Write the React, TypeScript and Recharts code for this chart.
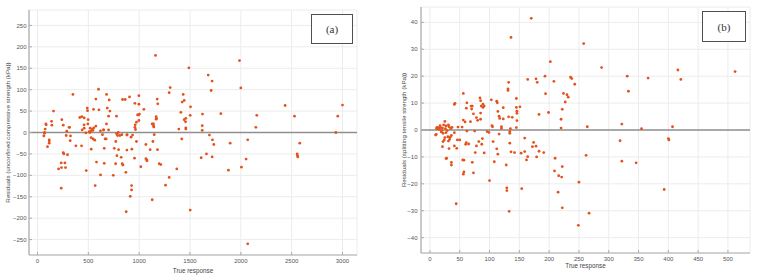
import { ScatterChart, Scatter, XAxis, YAxis, CartesianGrid, ReferenceLine } from 'recharts';

// (a) unconfined compressive strength: [true response, residual]
const ucsResiduals: [number, number][] = [
  [1161, 180], [1987, 168], [1489, 151], [1679, 134], [1718, 120], [2000, 104], [1305, 105], [600, 101],
  [1708, 98], [1295, 93], [679, 89], [348, 89], [905, 83], [997, 86], [1433, 89], [574, 78], [836, 77],
  [862, 77], [1177, 78], [705, 76], [1443, 75], [1183, 67], [1423, 71], [2436, 63], [3000, 64], [958, 68],
  [997, 66], [1505, 60], [489, 57], [492, 51], [551, 54], [604, 53], [686, 57], [712, 50], [157, 50],
  [1046, 54], [1410, 47], [436, 37], [416, 35], [459, 34], [498, 30], [239, 30], [699, 38], [777, 38],
  [984, 41], [1003, 43], [994, 41], [1167, 37], [1170, 33], [1167, 31], [1443, 30], [1459, 33], [1502, 40],
  [1623, 43], [1803, 44], [2157, 40], [2528, 38], [2954, 38], [138, 26], [141, 17], [82, 20], [85, 18],
  [253, 17], [574, 15], [997, 28], [973, 24], [961, 18], [958, 12], [964, 7], [1128, 20], [1141, 20],
  [1141, 15], [1144, 13], [1456, 25], [1459, 11], [1459, 8], [1390, 8], [1620, 16], [1620, 5], [2148, 12],
  [2935, 0], [75, 8], [69, 0], [315, 12], [495, 20], [459, 10], [518, 10], [554, 11], [545, 5], [508, 2],
  [650, 6], [699, 6], [777, -3], [794, 0], [879, -6], [810, -7], [830, -5], [935, -6], [1148, -5],
  [62, -8], [68, -2], [282, -7], [321, -19], [324, -8], [527, -12], [547, -15], [563, -18], [665, -15],
  [675, -15], [770, -21], [787, -7], [881, -5], [920, -11], [973, -21], [288, 3], [311, 12], [439, 6],
  [458, 18], [475, -1], [515, 0], [527, 4], [540, 8], [619, 4], [639, -5], [649, 6], [678, 20],
  [1419, -15], [1691, -6],
  [98, -33], [115, -20], [115, -25], [115, -17], [377, -31], [433, -31], [528, -39], [253, -47], [259, -50],
  [295, -52], [233, -71], [269, -71], [236, -82], [275, -82], [207, -85], [479, -89], [233, -130], [580, -69],
  [620, -99], [656, -37], [656, -72], [567, -124], [755, -37], [768, -73], [781, -54], [797, -40], [823, -58],
  [833, -73], [840, -76], [745, -100], [869, -93], [879, -41], [928, -39], [954, -60], [872, -185], [912, -149],
  [925, -124], [925, -134], [1016, -80], [1066, -28], [1066, -61], [1076, -64], [1076, -66], [1108, -40],
  [1135, -21], [1180, -40], [1197, -73], [1213, -75], [1128, -157], [1259, -123], [1295, -105], [1370, -85],
  [1502, -181], [1610, -59], [1662, -50], [1718, -57], [1721, -17], [1734, -28], [1878, -88], [1895, -25],
  [2006, -81], [2052, -62], [2068, -17], [2068, -260], [2554, -50], [2557, -54], [2561, -57], [2580, -25],
];

// (b) splitting tensile strength: [true response, residual]
const stsResiduals: [number, number][] = [
  [170, 41.5], [136, 34.4], [258, 32.1], [202, 25.4], [288, 23.2], [416, 22.3], [512, 21.7], [331, 20],
  [366, 19.3], [421, 18.8], [236, 19.6], [238, 19.1], [193, 20], [178, 19], [180, 17.7], [164, 18.8],
  [208, 18.1], [243, 17], [132, 17.7], [131, 15.3], [131, 14.7], [333, 14.4], [224, 13.6], [230, 13.1],
  [232, 12.2], [194, 13.5], [56, 13.6], [42, 9.9], [41, 9.5], [62, 10.1], [61, 8.1], [69, 8.9], [71, 8.9],
  [70, 7.8], [84, 11.9], [85, 10.9], [89, 9.6], [91, 8.9], [89, 8.4], [86, 8.9], [103, 11.2], [112, 10.7],
  [113, 10.1], [123, 8.3], [145, 8.4], [145, 11.7], [151, 8.6], [132, 4.9], [138, 4.7], [146, 6.2], [146, 7],
  [146, 3.5], [145, 0.9], [114, 6.9], [116, 5.1], [117, 4.3], [123, 4.1], [73, 6], [78, 4.6], [85, 4],
  [56, 3.7], [59, 3], [54, 1.1], [47, 1.1], [104, 1.6], [105, 1.2], [120, 1.2], [120, 0.6], [135, 0.5],
  [134, -0.6], [134, -1.2], [183, 5.8], [199, 6.5], [222, 7.7], [227, 10.4], [220, 4], [220, 0.7], [264, 1.2],
  [322, 2.2], [355, 0.5], [407, 1.2], [96, -0.6], [99, -0.9], [159, -3], [400, -3.2],
  [11, 0.6], [12, 1], [13, 0.4], [15, 0.9], [16, 0.2], [17, 1.6], [18, 0.9], [20, -0.2], [21, 0.7], [23, 1.9],
  [25, 3.2], [26, 0.5], [27, 1.5], [29, -0.2], [31, 1.9], [32, 1.2], [35, 0.6], [37, 1], [9.5, -1.9], [19, -0.7],
  [22, -1.2], [27, -1], [30, -2.5], [36, -2], [41, -1], [25, -2.8], [34, -2.7],
  [88, -3.2], [33, -3.5], [10.5, -1.6], [80, 3.6], [68, 3.1], [85, 6.3], [75, -0.4], [62, -0.4], [116, -1.5],
  [21, -6.2], [22, -4.3], [24, -3.7], [31, -4.1], [32, -6.9], [28, -10.5], [27, -10.6], [36, -12], [36, -13],
  [41, -5.9], [45, -6.8], [44, -27.4], [46, -3.7], [50, -3.7], [55, -11.1], [57, -11.2], [57, -15.6], [56, -16.4],
  [61, -4.7], [60, -5.3], [65, -5.2], [71, -12], [73, -15.9], [76, -8.4], [78, -5.9], [82, -4.3], [87, -5.3],
  [91, -8.5], [100, -18.8], [106, -4.3], [108, -11.8], [112, -7], [114, -9], [128, -13], [129, -21.5],
  [129, -22.5], [133, -30.2], [134, -4.9], [136, -8.1], [142, -8.4], [153, -8.6], [154, -21.8], [159, -8],
  [162, -11.1], [164, -9.9], [172, -6.2], [174, -4.6], [178, -6], [179, -10], [183, -7.9], [191, -8.4],
  [210, -10.5], [209, -15.2], [216, -17], [215, -23.1], [221, -17.5], [222, -13.6], [222, -28.9], [249, -35.4],
  [250, -19.4], [262, -9.4], [267, -30.9], [319, -4], [322, -11.6], [346, -12.2], [393, -22.1], [401, -3.7],
];

const ucsXTicks = [0, 500, 1000, 1500, 2000, 2500, 3000];
const ucsYTicks = [-250, -200, -150, -100, -50, 0, 50, 100, 150, 200, 250];
const stsXTicks = [0, 50, 100, 150, 200, 250, 300, 350, 400, 450, 500];
const stsYTicks = [-40, -30, -20, -10, 0, 10, 20, 30, 40];

const FONT = '"Liberation Sans", Arial, sans-serif';
const DOT = '#e4521c';
const FRAME = '#ababab';
const TICK_COLOR = '#555';

const fmt = (v: number) => (v < 0 ? '\u2212' + Math.abs(v) : String(v));

const makeYTick = (gap: number) => (props: any) => {
  const { x, y, payload } = props;
  return (
    <g>
      <line x1={x + gap} x2={x + gap + 3} y1={y} y2={y} stroke={FRAME} />
      <text x={x} y={y} dy="0.35em" textAnchor="end" fontSize={6} fontFamily={FONT} fill={TICK_COLOR}>
        {fmt(payload.value)}
      </text>
    </g>
  );
};

const makeXTick = (gap: number) => (props: any) => {
  const { x, y, payload } = props;
  return (
    <g>
      <line x1={x} x2={x} y1={y - gap} y2={y - gap - 3} stroke={FRAME} />
      <text x={x} y={y} dy="0.71em" textAnchor="middle" fontSize={6} fontFamily={FONT} fill={TICK_COLOR}>
        {fmt(payload.value)}
      </text>
    </g>
  );
};

const TopTick = (props: any) => (
  <line x1={props.x} x2={props.x} y1={props.y} y2={props.y + 3} stroke={FRAME} />
);
const RightTick = (props: any) => (
  <line x1={props.x} x2={props.x - 3} y1={props.y} y2={props.y} stroke={FRAME} />
);

const dotShape = (p: any) => <circle cx={p.cx} cy={p.cy} r={1.4} fill={DOT} />;

type PanelProps = {
  points: [number, number][];
  xDomain: [number, number];
  yDomain: [number, number];
  xTicks: number[];
  yTicks: number[];
  yLabel: string;
  margin: { top: number; right: number; bottom: number; left: number };
  yAxisWidth: number;
  xAxisHeight: number;
  xGap: number;
  yGap: number;
  yLabelX: number;
  xLabelY: number;
};

const Panel = (p: PanelProps) => {
  const data = p.points.map(([x, y]) => ({ x, y }));
  const plotTop = p.margin.top;
  const plotBottom = 280 - p.margin.bottom - p.xAxisHeight;
  const plotLeft = p.margin.left + p.yAxisWidth;
  const plotRight = 379 - p.margin.right;
  const cx = (plotLeft + plotRight) / 2;
  const cy = (plotTop + plotBottom) / 2;
  return (
    <ScatterChart width={379} height={280} margin={p.margin}>
      <CartesianGrid stroke="#ececec" />
      <XAxis
        type="number"
        dataKey="x"
        domain={p.xDomain}
        ticks={p.xTicks}
        interval={0}
        allowDataOverflow
        height={p.xAxisHeight}
        axisLine={{ stroke: FRAME, strokeWidth: 1.2 }}
        tickLine={false}
        tickSize={0}
        tickMargin={p.xGap}
        tick={makeXTick(p.xGap)}
        label={{
          content: () => (
            <text x={cx} y={p.xLabelY} textAnchor="middle" dominantBaseline="central" fontSize={6.3} fontFamily={FONT} fill="#444">
              True response
            </text>
          ),
        }}
      />
      <XAxis
        xAxisId="top"
        orientation="top"
        type="number"
        domain={p.xDomain}
        ticks={p.xTicks}
        interval={0}
        allowDataOverflow
        height={0}
        axisLine={{ stroke: FRAME, strokeWidth: 1.2 }}
        tickLine={false}
        tickSize={0}
        tickMargin={0}
        tick={TopTick}
      />
      <YAxis
        type="number"
        dataKey="y"
        domain={p.yDomain}
        ticks={p.yTicks}
        interval={0}
        allowDataOverflow
        width={p.yAxisWidth}
        axisLine={{ stroke: FRAME, strokeWidth: 1.2 }}
        tickLine={false}
        tickSize={0}
        tickMargin={p.yGap}
        tick={makeYTick(p.yGap)}
        label={{
          content: () => (
            <text
              x={p.yLabelX}
              y={cy}
              transform={`rotate(-90 ${p.yLabelX} ${cy})`}
              textAnchor="middle"
              dominantBaseline="central"
              fontSize={6.2}
              fontFamily={FONT}
              fill="#444"
            >
              {p.yLabel}
            </text>
          ),
        }}
      />
      <YAxis
        yAxisId="right"
        orientation="right"
        type="number"
        domain={p.yDomain}
        ticks={p.yTicks}
        interval={0}
        allowDataOverflow
        width={0}
        axisLine={{ stroke: FRAME, strokeWidth: 1.2 }}
        tickLine={false}
        tickSize={0}
        tickMargin={0}
        tick={RightTick}
      />
      <ReferenceLine y={0} stroke="#8f8f8f" strokeWidth={1.5} />
      <Scatter data={data} shape={dotShape} isAnimationActive={false} />
    </ScatterChart>
  );
};

const boxStyle = {
  position: 'absolute' as const,
  boxSizing: 'border-box' as const,
  border: '1.5px solid #505050',
  background: '#fff',
  display: 'flex',
  alignItems: 'center',
  justifyContent: 'center',
  fontFamily: '"Liberation Serif", "Times New Roman", serif',
  fontSize: 11,
  color: '#333',
};

export default function App() {
  return (
    <div style={{ position: 'absolute', left: 0, top: 0, width: 758, height: 280, background: '#fff' }}>
      <div style={{ position: 'absolute', left: 0, top: 0 }}>
        <Panel
          points={ucsResiduals}
          xDomain={[-84, 3143]}
          yDomain={[-286, 286]}
          xTicks={ucsXTicks}
          yTicks={ucsYTicks}
          yLabel="Residuals (unconfined compressive strength (kPa))"
          margin={{ top: 10, right: 22, bottom: 0, left: 0 }}
          yAxisWidth={29}
          xAxisHeight={25}
          xGap={4}
          yGap={2.5}
          yLabelX={7.5}
          xLabelY={270}
        />
      </div>
      <div style={{ position: 'absolute', left: 379, top: 0 }}>
        <Panel
          points={stsResiduals}
          xDomain={[-15, 537]}
          yDomain={[-45.7, 45.7]}
          xTicks={stsXTicks}
          yTicks={stsYTicks}
          yLabel="Residuals (splitting tensile strength (kPa))"
          margin={{ top: 7, right: 8, bottom: 0, left: 0 }}
          yAxisWidth={42}
          xAxisHeight={27}
          xGap={3.5}
          yGap={3.5}
          yLabelX={24}
          xLabelY={265.5}
        />
      </div>
      <div style={{ ...boxStyle, left: 311, top: 14, width: 42, height: 30 }}>(a)</div>
      <div style={{ ...boxStyle, left: 702, top: 11, width: 44, height: 31 }}>(b)</div>
    </div>
  );
}
